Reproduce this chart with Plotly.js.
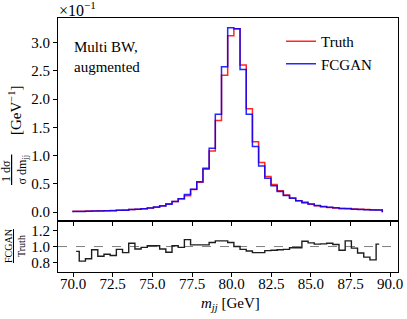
<!DOCTYPE html>
<html>
<head>
<meta charset="utf-8">
<script src="https://cdn.plot.ly/plotly-3.0.1.min.js"></script>
<style>html,body{margin:0;padding:0;background:#fff;}#chart{width:407px;height:319px;}</style>
</head>
<body>
<div id="chart"></div>
<script>
// ---- data (histogram values in units of 10^-1 GeV^-1) ----
const binLow = 70.0;
const binHigh = 89.5;
const nBins = 50;
const truth = [0.016,0.018,0.020,0.022,0.025,0.028,0.031,0.035,0.040,0.046,
               0.053,0.062,0.073,0.090,0.113,0.150,0.188,0.238,0.290,0.400,
               0.530,0.760,1.080,1.620,2.420,3.120,3.240,2.600,1.830,1.245,
               0.880,0.630,0.490,0.380,0.305,0.250,0.205,0.165,0.140,0.115,
               0.097,0.084,0.075,0.068,0.060,0.055,0.051,0.048,0.045,0.040];
const fcgan = [0.015,0.015,0.017,0.021,0.022,0.025,0.028,0.034,0.037,0.048,
               0.051,0.061,0.074,0.091,0.110,0.140,0.190,0.236,0.315,0.408,
               0.540,0.775,1.130,1.730,2.570,3.260,3.240,2.520,1.730,1.160,
               0.815,0.600,0.470,0.365,0.295,0.246,0.202,0.176,0.146,0.118,
               0.100,0.087,0.077,0.065,0.064,0.054,0.047,0.042,0.038,0.041];
const ratio = [0.94,0.82,0.85,0.96,0.88,0.905,0.89,0.965,0.925,1.04,
               0.97,0.99,1.01,1.01,0.97,0.93,1.01,0.99,1.085,1.02,
               1.02,1.02,1.05,1.07,1.07,1.05,1.00,0.965,0.945,0.925,
               0.925,0.95,0.955,0.96,0.965,0.985,0.985,1.065,1.045,1.03,
               1.033,1.04,1.025,0.955,1.07,0.98,0.92,0.87,0.836,1.03];
const seriesNames = ["Truth", "FCGAN"];
const xTickVals = [70.0,72.5,75.0,77.5,80.0,82.5,85.0,87.5,90.0];
const yTickVals = [0.0,0.5,1.0,1.5,2.0,2.5,3.0];
const rTickVals = [0.8,1.0,1.2];

// ---- geometry helpers ----
const W = 407, H = 319;
const L = 58, R = 398, T = 18, B = 272, SPLIT = 221;
const px2x = p => (p - L) / (R - L);
const py2y = p => (B - p) / (B - T);

const edges = [];
for (let i = 0; i <= nBins; i++) edges.push(binLow + i * (binHigh - binLow) / nBins);
const centers = [];
for (let i = 0; i < nBins; i++) centers.push((edges[i] + edges[i + 1]) / 2);

function stepTrace(vals, name, color, opacity) {
  const x = [edges[0]], y = [0];
  for (let i = 0; i < vals.length; i++) { x.push(edges[i]); y.push(vals[i]); }
  x.push(edges[nBins]); y.push(vals[vals.length - 1]);
  x.push(edges[nBins]); y.push(0);
  return {x: x, y: y, type: 'scatter', mode: 'lines', name: name,
          line: {shape: 'hv', color: color, width: 1.5}, opacity: opacity,
          xaxis: 'x', yaxis: 'y', hoverinfo: 'skip'};
}

const font = 'Liberation Serif, DejaVu Serif, serif';
const traces = [
  stepTrace(truth, seriesNames[0], 'rgb(255,0,0)', 0.85),
  stepTrace(fcgan, seriesNames[1], 'rgb(0,0,255)', 0.85),
  {x: centers, y: ratio, type: 'scatter', mode: 'lines', showlegend: false,
   line: {shape: 'hvh', color: 'rgb(30,30,30)', width: 1.4},
   xaxis: 'x2', yaxis: 'y2', hoverinfo: 'skip'}
];

const splitFrac = (B - SPLIT) / (B - T);
const xRange = [69.05, 90.49];
const axisCommon = {showgrid: false, zeroline: false, showline: true, mirror: true,
  linecolor: 'black', linewidth: 1, ticks: 'outside', ticklen: 4, tickwidth: 1,
  tickcolor: 'black', tickfont: {family: font, size: 15, color: 'black'}};

const layout = {
  width: W, height: H, autosize: false,
  paper_bgcolor: 'white', plot_bgcolor: 'white',
  margin: {l: L, r: W - R, t: T, b: H - B, pad: 0},
  showlegend: true,
  legend: {x: px2x(281), y: py2y(25), xanchor: 'left', yanchor: 'top',
           bgcolor: 'rgba(0,0,0,0)', borderwidth: 0,
           font: {family: font, size: 15, color: 'black'}, tracegroupgap: 0},
  xaxis: Object.assign({}, axisCommon, {domain: [0, 1], anchor: 'y', range: xRange,
           tickvals: xTickVals, showticklabels: false, matches: 'x2'}),
  yaxis: Object.assign({}, axisCommon, {domain: [splitFrac, 1], anchor: 'x',
           range: [-0.155, 3.432], tickvals: yTickVals, tickformat: '.1f'}),
  xaxis2: Object.assign({}, axisCommon, {domain: [0, 1], anchor: 'y2', range: xRange,
           tickvals: xTickVals, tickformat: '.1f', ticklabelstandoff: -6}),
  yaxis2: Object.assign({}, axisCommon, {domain: [0, splitFrac], anchor: 'x2',
           range: [0.686, 1.315], tickvals: rTickVals, tickformat: '.1f'}),
  shapes: [
    {type: 'line', xref: 'x2 domain', yref: 'y2', x0: 0, x1: 1, y0: 1, y1: 1,
     line: {color: 'rgb(128,128,128)', width: 1, dash: 'dash'}, layer: 'below'}
  ],
  annotations: [
    {text: '×10<sup>−1</sup>', xref: 'paper', yref: 'paper', x: px2x(57), y: py2y(9),
     xanchor: 'left', yanchor: 'middle', showarrow: false,
     font: {family: font, size: 16, color: 'black'}},
    {text: 'Multi BW,<br>augmented', xref: 'paper', yref: 'paper', x: px2x(72), y: py2y(37),
     xanchor: 'left', yanchor: 'top', align: 'left', showarrow: false,
     font: {family: font, size: 15, color: 'black'}},
    {text: '[GeV<sup>−1</sup>]', xref: 'paper', yref: 'paper', x: px2x(15), y: py2y(110),
     xanchor: 'center', yanchor: 'middle', textangle: -90, showarrow: false,
     font: {family: font, size: 15, color: 'black'}},
    {text: '<u> 1 dσ  </u><br>σ dm<sub>jj</sub>', xref: 'paper', yref: 'paper', x: px2x(14), y: py2y(170),
     xanchor: 'center', yanchor: 'middle', textangle: -90, showarrow: false,
     font: {family: font, size: 12, color: 'black'}},
    {text: '<u>FCGAN</u><br>Truth', xref: 'paper', yref: 'paper', x: px2x(15), y: py2y(246),
     xanchor: 'center', yanchor: 'middle', textangle: -90, showarrow: false,
     font: {family: font, size: 10, color: 'black'}},
    {text: '<i>m</i><sub><i>jj</i></sub> [GeV]', xref: 'paper', yref: 'paper', x: px2x(230), y: py2y(304),
     xanchor: 'center', yanchor: 'middle', showarrow: false,
     font: {family: font, size: 15, color: 'black'}}
  ]
};

Plotly.newPlot('chart', traces, layout, {displayModeBar: false, staticPlot: true});
</script>
</body>
</html>
